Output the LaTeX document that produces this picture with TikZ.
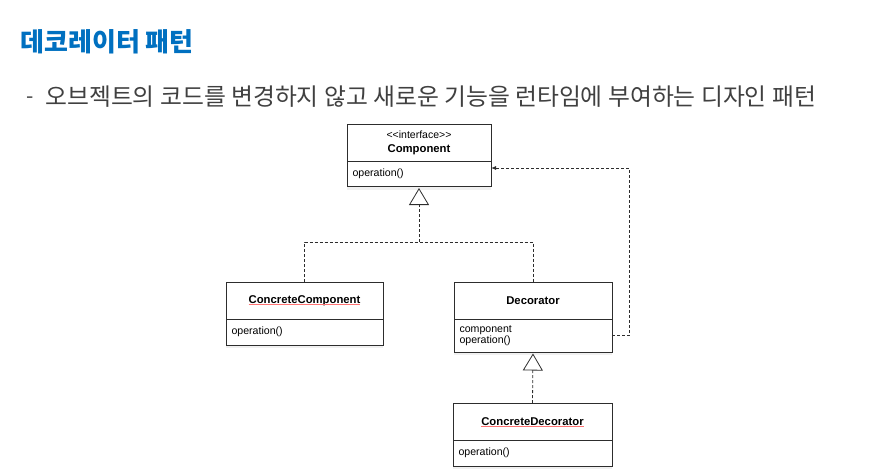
\documentclass[tikz,border=0pt]{standalone}
\usepackage{fontspec}
\newfontfamily\uml{Liberation Sans}
\newfontfamily\kr{Noto Sans CJK KR}
\usepackage{tikz}
\usetikzlibrary{arrows.meta}
\usetikzlibrary{positioning,shadows}
\definecolor{titleblue}{RGB}{0,112,192}
\definecolor{subgrey}{RGB}{64,64,64}
\definecolor{linegrey}{RGB}{45,45,45}
\newsavebox\spellbox
\newcommand{\spellchk}[1]{\sbox\spellbox{#1}\rlap{\usebox\spellbox}%
  \smash{\textcolor{red!55}{\rule[-1.8pt]{\wd\spellbox}{0.9pt}}}}
\tikzstyle{head} = [rectangle, draw=linegrey, fill=white, align=center,
    inner sep=0pt, outer sep=0pt, minimum height=37pt,
    font=\uml\fontsize{11.3}{14}\selectfont\bfseries]
\tikzstyle{body} = [rectangle, draw=linegrey, fill=white, align=left,
    inner xsep=5.5pt, inner ysep=3pt, outer sep=0pt, minimum height=28pt,
    font=\uml\fontsize{10.6}{11}\selectfont,
    drop shadow={shadow xshift=0pt, shadow yshift=-3pt, opacity=0.12}]
\tikzstyle{dep} = [draw=linegrey, dash pattern=on 3pt off 2pt]
\tikzstyle{realize} = [dep, -{Triangle[open,width=20pt,length=17pt]},
    shorten >=1.5pt]

\begin{document}
\begin{tikzpicture}[x=1pt,y=-1pt,thick,node distance=0pt]
  \useasboundingbox (0,0) rectangle (891,475);

  \node[anchor=west,inner sep=0pt,text=titleblue,
        font=\kr\fontsize{26}{30}\selectfont\bfseries] (title) at (20,42) {데코레이터 패턴};
  \node[anchor=center,inner sep=0pt,text=subgrey,
        font=\kr\fontsize{21}{24}\selectfont] (dash) at (30,100) {-};
  \node[anchor=west,inner sep=0pt,text=subgrey,
        font=\kr\fontsize{23.8}{26}\selectfont] (sub) at (45,97)
        {오브젝트의 코드를 변경하지 않고 새로운 기능을 런타임에 부여하는 디자인 패턴};

  \node[head,minimum width=144pt] (comp) at (419,143)
        {{\mdseries\fontsize{10.5}{12}\selectfont <<interface>>}\\Component};
  \node[body,text width=133pt,minimum height=25pt] (compops) [below=of comp] {operation()};

  \node[head,minimum width=157pt] (cc) at (304.5,300.5) {\spellchk{ConcreteComponent}};
  \node[body,text width=146pt,minimum height=26pt] (ccops) [below=of cc] {operation()\\[2pt]};

  \node[head,minimum width=158pt] (dec) at (533,300.5) {Decorator};
  \node[body,text width=147pt,minimum height=33pt] (decops) [below=of dec] {component\\operation()};

  \node[head,minimum width=159pt] (cd) at (532.5,421.5) {\spellchk{ConcreteDecorator}};
  \node[body,text width=148pt,minimum height=26pt] (cdops) [below=of cd] {operation()\\[2pt]};

  % realization
  \coordinate (fork) at (419,242);
  \draw[dep] (cc.north) |- (fork) -| (dec.north);
  \draw[realize] (fork) -- (compops.south);
  \draw[realize] (cd.north) -- (decops.south);

  % decorator wraps component
  \coordinate (loop) at (629,168);
  \draw[dep,-{Latex[length=5pt,width=4pt]}] (decops.east) -| (loop) -- (loop -| compops.east);
\end{tikzpicture}
\end{document}
